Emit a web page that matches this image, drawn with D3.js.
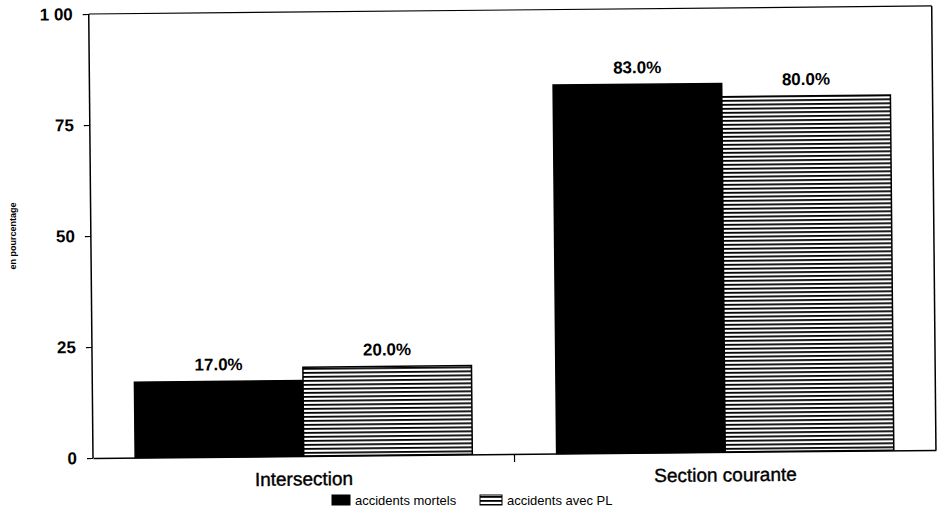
<!DOCTYPE html>
<html>
<head>
<meta charset="utf-8">
<script src="https://cdn.jsdelivr.net/npm/d3@7"></script>
<style>
body { margin: 0; background: #fff; }
svg { display: block; font-family: "Liberation Sans", Arial, sans-serif; }
</style>
</head>
<body>
<div id="chart"></div>
<script>
var categories = ["Intersection", "Section courante"];
var series = ["accidents mortels", "accidents avec PL"];
var mortels = [17.0, 83.0];
var avecPL = [20.0, 80.0];
var yTicks = [0, 25, 50, 75, 100];
var yTickLabels = ["0", "25", "50", "75", "1 00"];

var width = 938, height = 516;
var margin = {left: 93, top: 14, right: 2, bottom: 58};
var w = width - margin.left - margin.right;
var h = height - margin.top - margin.bottom;

var svg = d3.select("#chart")
	.append("svg")
	.attr("width", width)
	.attr("height", height)
	;

var defs = svg.append("defs");
var pat = defs.append("pattern")
	.attr("id", "hatch")
	.attr("patternUnits", "userSpaceOnUse")
	.attr("width", 8)
	.attr("height", 4)
	;
pat.append("rect").attr("width", 8).attr("height", 4).attr("fill", "#fff");
pat.append("rect").attr("y", 0).attr("width", 8).attr("height", 1.8).attr("fill", "#000");

// the scan is slightly tilted
var g = svg.append("g")
	.attr("transform", "translate(" + margin.left + "," + margin.top + ") rotate(-0.55 0 " + h + ")")
	;

var x0 = d3.scaleBand()
	.domain(categories)
	.range([0, w])
	.paddingInner(0.2)
	.paddingOuter(0.1)
	;
var x1 = d3.scaleBand()
	.domain(series)
	.range([0, x0.bandwidth()])
	;
var y = d3.scaleLinear()
	.domain([0, 100])
	.range([h, 0])
	;

var rows = categories.map(function(c, i) {
	return {cat: c, vals: [
		{s: series[0], v: mortels[i]},
		{s: series[1], v: avecPL[i]}
	]};
});

// frame
g.append("line").attr("x1", 0).attr("x2", w).attr("y1", 0).attr("y2", 0)
	.attr("stroke", "#000").attr("stroke-width", 1.2);
g.append("line").attr("x1", w).attr("x2", w).attr("y1", 0).attr("y2", h)
	.attr("stroke", "#000").attr("stroke-width", 1.5);

var groups = g.selectAll("g.cat")
	.data(rows)
	.enter().append("g")
	.attr("class", "cat")
	.attr("transform", function(d) { return "translate(" + x0(d.cat) + ",0)"; })
	;

groups.selectAll("rect")
	.data(function(d) { return d.vals; })
	.enter().append("rect")
	.attr("x", function(d) { return x1(d.s); })
	.attr("y", function(d) { return y(d.v); })
	.attr("width", x1.bandwidth())
	.attr("height", function(d) { return h - y(d.v); })
	.attr("fill", function(d, i) { return i == 0 ? "#000" : "url(#hatch)"; })
	.attr("stroke", "#000")
	.attr("stroke-width", 1.5)
	;

groups.selectAll("text.val")
	.data(function(d) { return d.vals; })
	.enter().append("text")
	.attr("class", "val")
	.attr("x", function(d) { return x1(d.s) + x1.bandwidth() / 2; })
	.attr("y", function(d) { return y(d.v) - 11; })
	.attr("text-anchor", "middle")
	.attr("font-size", 17)
	.attr("font-weight", "bold")
	.text(function(d) { return d.v.toFixed(1) + "%"; })
	;

// y axis
var yAxis = g.append("g")
	.call(d3.axisLeft(y)
		.tickValues(yTicks)
		.tickSize(6)
		.tickPadding(10)
		.tickFormat(function(d, i) { return yTickLabels[i]; }))
	;
yAxis.select(".domain").attr("stroke-width", 1.5).attr("d", "M0," + h + "V0");
yAxis.selectAll(".tick line").attr("stroke-width", 1.2);
yAxis.selectAll(".tick text")
	.attr("font-size", 17)
	.attr("font-weight", "bold")
	.attr("font-family", "Liberation Sans, Arial, sans-serif")
	.attr("fill", "#000")
	;

// x axis
var xAxis = g.append("g")
	.attr("transform", "translate(0," + h + ")")
	.call(d3.axisBottom(x0).tickSize(0).tickPadding(16))
	;
xAxis.select(".domain").attr("stroke-width", 1.5);
xAxis.selectAll(".tick text")
	.attr("font-size", 19)
	.attr("font-family", "Liberation Sans, Arial, sans-serif")
	.attr("fill", "#000")
	.attr("stroke", "#000")
	.attr("stroke-width", 0.4)
	;
xAxis.selectAll("line.sep")
	.data(categories.slice(1))
	.enter().append("line")
	.attr("class", "sep")
	.attr("x1", function(d) { return x0(d) - x0.step() * x0.paddingInner() / 2; })
	.attr("x2", function(d) { return x0(d) - x0.step() * x0.paddingInner() / 2; })
	.attr("y1", 0)
	.attr("y2", 8)
	.attr("stroke", "#000")
	.attr("stroke-width", 1.2)
	;

// y title
svg.append("text")
	.attr("transform", "translate(16," + (margin.top + h / 2) + ") rotate(-90)")
	.attr("text-anchor", "middle")
	.attr("font-size", 9)
	.attr("font-weight", "bold")
	.text("en pourcentage")
	;

// legend
var legend = svg.append("g").attr("transform", "translate(332,500)");
var items = [
	{s: series[0], x: 0, fill: "#000", bw: 18},
	{s: series[1], x: 148, fill: "url(#hatch)", bw: 22}
];
var li = legend.selectAll("g")
	.data(items)
	.enter().append("g")
	.attr("transform", function(d) { return "translate(" + d.x + ",0)"; })
	;
li.append("rect")
	.attr("x", 0)
	.attr("y", -5)
	.attr("width", function(d) { return d.bw; })
	.attr("height", 10)
	.attr("fill", function(d) { return d.fill; })
	.attr("stroke", "#000")
	.attr("stroke-width", 1)
	;
li.append("text")
	.attr("x", function(d) { return d.bw + 5; })
	.attr("y", 4.5)
	.attr("font-size", 13)
	.text(function(d) { return d.s; })
	;
</script>
</body>
</html>
